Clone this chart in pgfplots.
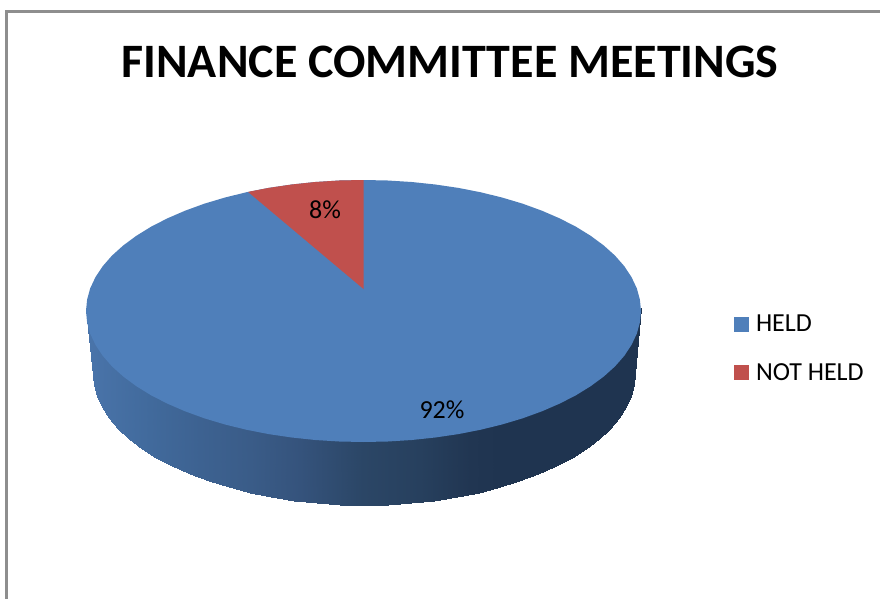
\documentclass[border=0pt]{standalone}
\usepackage{pgfplots}
\usepackage{fontspec}
\setmainfont{Carlito}
\pgfplotsset{compat=1.18}
\definecolor{heldblue}{HTML}{4F7FBA}
\definecolor{notheldred}{HTML}{C0504D}
\definecolor{frameline}{HTML}{8E8E8E}
\begin{document}
\begin{tikzpicture}
\begin{axis}[
  scale only axis, width=880pt, height=599pt,
  xmin=0, xmax=880, ymin=0, ymax=599, y dir=reverse,
  axis lines=none, clip=true,
  colormap={pieside}{
    rgb255(0pt)=(74,117,171);
    rgb255(14pt)=(72,114,167);
    rgb255(64pt)=(65,106,156);
    rgb255(114pt)=(61,98,145);
    rgb255(164pt)=(58,92,136);
    rgb255(214pt)=(53,83,124);
    rgb255(277pt)=(43,70,102);
    rgb255(334pt)=(39,64,94);
    rgb255(384pt)=(33,54,82);
    rgb255(414pt)=(31,52,80);
    rgb255(555pt)=(31,52,80)},
  point meta min=86, point meta max=641,
  legend style={at={(axis cs:734,313)}, anchor=north west, draw=none, fill=none,
    font=\fontsize{26}{30}\selectfont, row sep=26pt, inner sep=0pt, outer sep=0pt,
    /tikz/column 1/.style={column sep=5pt}},
  legend cell align=left,
  legend image code/.code={\fill[#1] (0pt,-7.5pt) rectangle (15pt,7.5pt);},
]
% page extent
\path (axis cs:0,0) -- (axis cs:880,599);

% outer frame of the chart area
\addplot[frameline, line width=2.6pt, forget plot] coordinates {(6.7,599)(6.7,11.3)(880,11.3)};

% side wall of the disc: pairs of rim points, the upper one tucked under the top face
\addplot[surf, shader=interp, mesh/cols=2, point meta=x, forget plot] table {
86.0 308.0
93.0 373.0
87.1 319.4
94.0 384.5
90.2 330.7
97.1 395.9
95.5 341.9
102.2 407.2
102.7 352.8
109.3 418.1
112.0 363.4
118.4 428.8
123.2 373.5
129.3 439.0
136.2 383.1
142.0 448.7
150.9 392.2
156.4 457.8
167.3 400.6
172.4 466.3
185.1 408.3
189.8 474.1
204.3 415.3
208.6 481.1
224.7 421.4
228.5 487.3
246.2 426.7
249.5 492.6
268.6 431.1
271.3 497.0
291.7 434.5
293.9 500.5
315.3 437.0
317.0 503.0
339.3 438.5
340.4 504.5
363.5 439.0
364.0 505.0
387.7 438.5
387.6 504.5
411.7 437.0
411.0 503.0
435.3 434.5
434.1 500.5
458.4 431.1
456.7 497.0
480.8 426.7
478.5 492.6
502.3 421.4
499.5 487.3
522.7 415.3
519.4 481.1
541.9 408.3
538.2 474.1
559.7 400.6
555.6 466.3
576.1 392.2
571.6 457.8
590.8 383.1
586.0 448.7
603.8 373.5
598.7 439.0
615.0 363.4
609.6 428.8
624.3 352.8
618.7 418.1
631.5 341.9
625.8 407.2
636.8 330.7
630.9 395.9
639.9 319.4
634.0 384.5
641.0 308.0
635.0 373.0
};

% top face: the larger share, drawn as the whole ellipse
\addplot[fill=heldblue, draw=none] coordinates {
(641.0,311.0)(639.9,299.6)(636.8,288.3)(631.5,277.1)(624.3,266.2)(615.0,255.6)
(603.8,245.5)(590.8,235.9)(576.1,226.8)(559.7,218.4)(541.9,210.7)(522.7,203.7)
(502.3,197.6)(480.8,192.3)(458.4,187.9)(435.3,184.5)(411.7,182.0)(387.7,180.5)
(363.5,180.0)(339.3,180.5)(315.3,182.0)(291.7,184.5)(268.6,187.9)(246.2,192.3)
(224.7,197.6)(204.3,203.7)(185.1,210.7)(167.3,218.4)(150.9,226.8)(136.2,235.9)
(123.2,245.5)(112.0,255.6)(102.7,266.2)(95.5,277.1)(90.2,288.3)(87.1,299.6)
(86.0,311.0)(87.1,322.4)(90.2,333.7)(95.5,344.9)(102.7,355.8)(112.0,366.4)
(123.2,376.5)(136.2,386.1)(150.9,395.2)(167.3,403.6)(185.1,411.3)(204.3,418.3)
(224.7,424.4)(246.2,429.7)(268.6,434.1)(291.7,437.5)(315.3,440.0)(339.3,441.5)
(363.5,442.0)(387.7,441.5)(411.7,440.0)(435.3,437.5)(458.4,434.1)(480.8,429.7)
(502.3,424.4)(522.7,418.3)(541.9,411.3)(559.7,403.6)(576.1,395.2)(590.8,386.1)
(603.8,376.5)(615.0,366.4)(624.3,355.8)(631.5,344.9)(636.8,333.7)(639.9,322.4)
} --cycle;
\addlegendentry{HELD}

% top face: the smaller share
\addplot[fill=notheldred, draw=none] coordinates {
(363.5,289.0)(363.5,180.0)(339.3,180.5)(315.3,182.0)(291.7,184.5)(268.6,187.9)(248.0,191.9)
} --cycle;
\addlegendentry{NOT HELD}

\node[font=\fontsize{48}{54}\selectfont\bfseries] at (axis cs:450,62) {FINANCE COMMITTEE MEETINGS};
\node[font=\fontsize{26}{30}\selectfont] at (axis cs:325,210) {8\%};
\node[font=\fontsize{26}{30}\selectfont] at (axis cs:442,410) {92\%};
\end{axis}
\end{tikzpicture}
\end{document}
